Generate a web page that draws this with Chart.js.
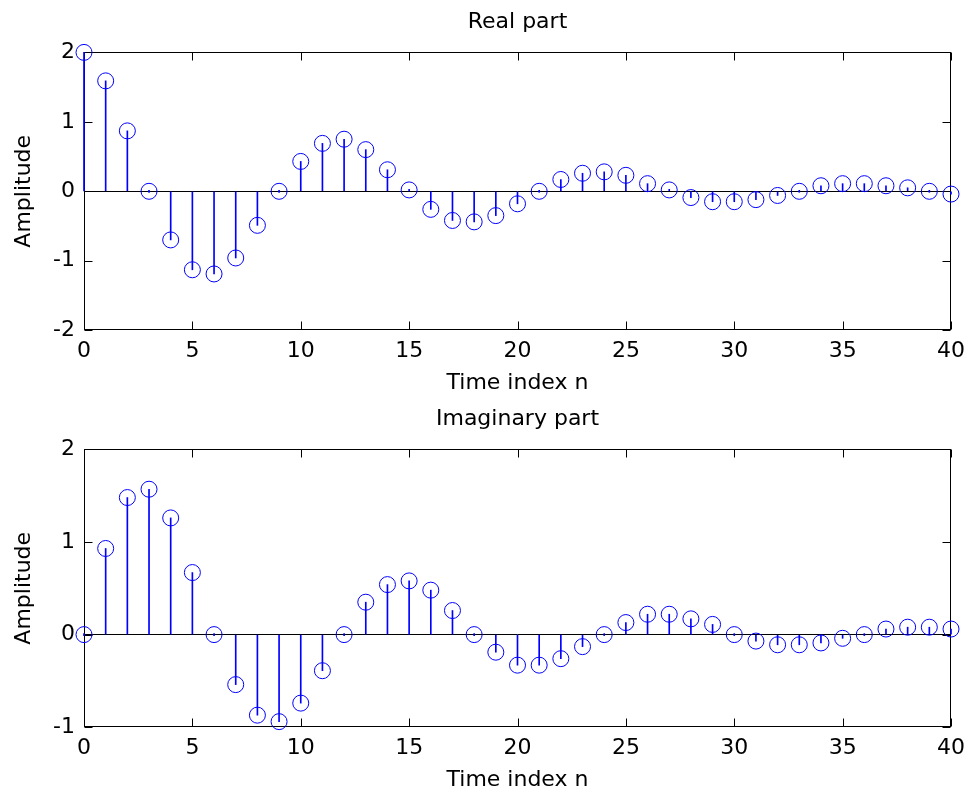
<!DOCTYPE html>
<html>
<head>
<meta charset="utf-8">
<script src="https://cdn.jsdelivr.net/npm/chart.js@4.4.1/dist/chart.umd.min.js"></script>
<style>
    html, body { margin: 0; padding: 0; background: #fff; }
    .plot { position: absolute; left: 0; width: 969px; height: 396px; }
</style>
</head>
<body>
<div class="plot" style="top:0"><canvas id="realChart"></canvas></div>
<div class="plot" style="top:397px"><canvas id="imagChart"></canvas></div>
<script>
// Time index n
const timeIndex = [0, 1, 2, 3, 4, 5, 6, 7, 8, 9, 10, 11, 12, 13, 14, 15, 16, 17, 18, 19, 20,
    21, 22, 23, 24, 25, 26, 27, 28, 29, 30, 31, 32, 33, 34, 35, 36, 37, 38, 39, 40];

// Real part values
const realPart = [2.0, 1.59, 0.87, 0.0, -0.70, -1.13, -1.19, -0.96, -0.49, 0.0,
    0.43, 0.69, 0.75, 0.60, 0.31, 0.02, -0.26, -0.42, -0.44, -0.35,
    -0.18, 0.0, 0.17, 0.26, 0.28, 0.23, 0.11, 0.02, -0.09, -0.15,
    -0.15, -0.12, -0.06, 0.0, 0.08, 0.11, 0.11, 0.08, 0.05, 0.0, -0.04];

// Imaginary part values
const imagPart = [0.0, 0.93, 1.48, 1.57, 1.26, 0.67, 0.0, -0.54, -0.87, -0.94,
    -0.74, -0.39, 0.0, 0.35, 0.54, 0.58, 0.48, 0.26, 0.0, -0.19,
    -0.33, -0.33, -0.26, -0.13, 0.0, 0.13, 0.22, 0.22, 0.17, 0.11,
    0.0, -0.07, -0.11, -0.11, -0.09, -0.04, 0.0, 0.06, 0.08, 0.08, 0.06];

const xTickStep = 5;
const yTickStep = 1;

const FONT = { family: "'DejaVu Sans', sans-serif", size: 22 };
const STEM_BLUE = '#0000ff';

// box around the axes plus matlab style inward ticks
const matlabAxes = {
    id: 'matlabAxes',
    beforeDatasetsDraw(chart) {
        const { ctx, chartArea: a, scales: { x, y } } = chart;
        const L = Math.round(a.left) + 0.5, R = Math.round(a.right) - 0.5;
        const T = Math.round(a.top) + 0.5, B = Math.round(a.bottom) - 0.5;
        const len = 8;
        ctx.save();
        ctx.strokeStyle = '#000';
        ctx.lineWidth = 1;
        ctx.strokeRect(L, T, R - L, B - T);
        ctx.beginPath();
        x.ticks.forEach(t => {
            const px = Math.round(x.getPixelForValue(t.value)) + 0.5;
            ctx.moveTo(px, B); ctx.lineTo(px, B - len);
            ctx.moveTo(px, T); ctx.lineTo(px, T + len);
        });
        y.ticks.forEach(t => {
            const py = Math.round(y.getPixelForValue(t.value)) + 0.5;
            ctx.moveTo(L, py); ctx.lineTo(L + len, py);
            ctx.moveTo(R, py); ctx.lineTo(R - len, py);
        });
        ctx.stroke();
        ctx.restore();
    }
};

function makeStemChart(canvasId, title, values, yMin, yMax) {
    const points = timeIndex.map((n, i) => ({ x: n, y: values[i] }));
    const ctx = document.getElementById(canvasId).getContext('2d');
    return new Chart(ctx, {
        type: 'scatter',
        data: {
            datasets: [{
                type: 'bar',
                data: points,
                backgroundColor: STEM_BLUE,
                borderWidth: 0,
                barThickness: 1,
                minBarLength: 2,
                clip: false
            }, {
                type: 'scatter',
                data: points,
                pointStyle: 'circle',
                pointRadius: 8,
                pointBorderWidth: 1,
                borderColor: STEM_BLUE,
                backgroundColor: 'rgba(0,0,0,0)',
                showLine: false,
                clip: false
            }]
        },
        options: {
            responsive: true,
            maintainAspectRatio: false,
            animation: false,
            layout: { padding: { left: 0, right: 18, top: 0, bottom: 0 } },
            plugins: {
                legend: { display: false },
                tooltip: { enabled: false },
                title: {
                    display: true,
                    text: title,
                    color: '#000',
                    font: { ...FONT, weight: 'normal' },
                    fullSize: false,
                    padding: { top: 9, bottom: 17 }
                }
            },
            scales: {
                x: {
                    type: 'linear',
                    min: 0,
                    max: 40,
                    offset: false,
                    afterFit: (scale) => { scale.paddingRight = 0; scale.paddingLeft = 0; },
                    grid: { display: false, drawTicks: false },
                    border: { display: false },
                    ticks: { stepSize: xTickStep, color: '#000', font: FONT, padding: 8, maxRotation: 0 },
                    title: { display: true, text: 'Time index n', color: '#000', font: FONT, padding: { top: -3, bottom: 0 } }
                },
                y: {
                    min: yMin,
                    max: yMax,
                    afterFit: (scale) => { scale.width = 84; },
                    border: { display: false },
                    grid: {
                        drawTicks: false,
                        color: (c) => c.tick && c.tick.value === 0 ? '#000' : 'rgba(0,0,0,0)',
                        lineWidth: 1
                    },
                    ticks: { stepSize: yTickStep, color: '#000', font: FONT, padding: 9 },
                    title: { display: true, text: 'Amplitude', color: '#000', font: FONT, padding: { top: 11, bottom: 0 } }
                }
            }
        },
        plugins: [matlabAxes]
    });
}

makeStemChart('realChart', 'Real part', realPart, -2, 2);
makeStemChart('imagChart', 'Imaginary part', imagPart, -1, 2);
</script>
</body>
</html>
